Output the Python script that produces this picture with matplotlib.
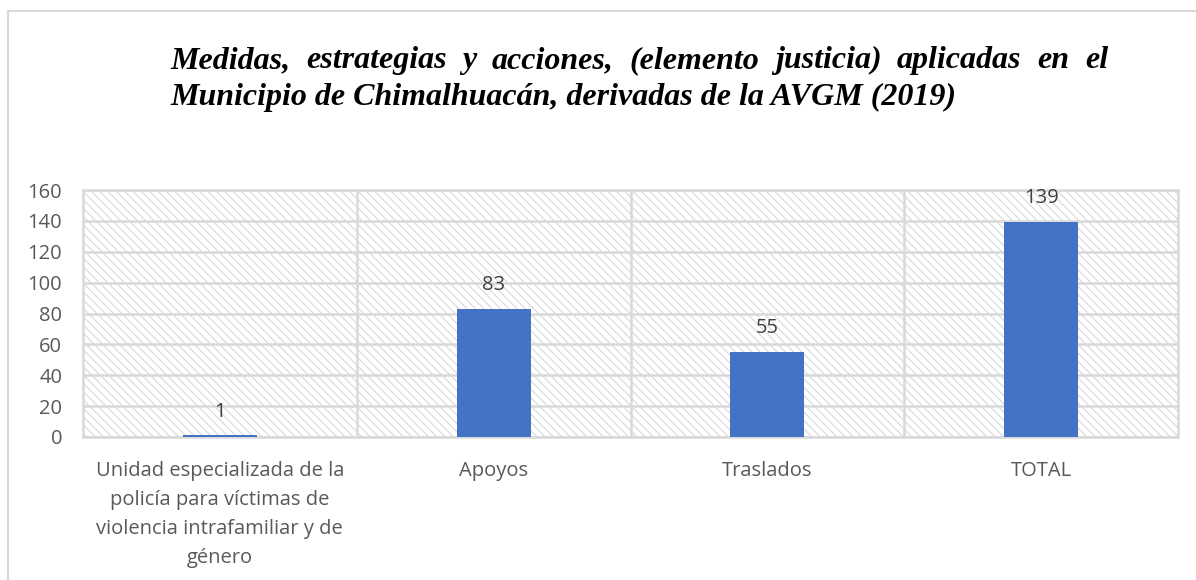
import matplotlib
matplotlib.use("Agg")
import matplotlib.pyplot as plt
from matplotlib.lines import Line2D

categories = ["Unidad especializada de la\npolicía para víctimas de\nviolencia intrafamiliar y de\ngénero",
              "Apoyos", "Traslados", "TOTAL"]
values = [1, 83, 55, 139]
yticks = [0, 20, 40, 60, 80, 100, 120, 140, 160]
title_line1 = "Medidas, estrategias y acciones, (elemento justicia) aplicadas en el"
title_line2 = "Municipio de Chimalhuacán, derivadas de la AVGM (2019)"

W, H = 1196, 580
plt.rcParams['hatch.linewidth'] = 0.75

fig = plt.figure(figsize=(W / 100, H / 100), dpi=100)
ax = fig.add_axes([83 / W, 1 - 437 / H, (1178 - 83) / W, (437 - 190) / H])

# hatched background
ax.add_patch(plt.Rectangle((0, 0), 1, 1, transform=ax.transAxes, facecolor='white',
                           edgecolor='#d6d6d6', linewidth=0, hatch='\\\\\\\\', zorder=0))
ax.set_facecolor('white')

x = list(range(len(categories)))
ax.bar(x, values, width=0.27, color='#4472c4', zorder=3)
for xi, v in zip(x, values):
    ax.text(xi, v + 15.5, str(v), ha='center', va='center', fontsize=14.5,
            color='#404040', family='Open Sans', zorder=4)

ax.set_xlim(-0.5, len(categories) - 0.5)
ax.set_ylim(0, 160)
ax.set_yticks(yticks)
ax.set_yticklabels([str(t) for t in yticks], family='Open Sans', fontsize=14.5, color='#595959')
ax.set_xticks(x)
ax.set_xticklabels(categories, family='Open Sans', fontsize=14.5, color='#595959', linespacing=1.6)
ax.tick_params(axis='y', length=0, pad=15)
ax.tick_params(axis='x', length=0, pad=17)

grid_c = '#d9d9d9'
for t in yticks:
    ax.axhline(t, color=grid_c, lw=1.8, zorder=1)
for b in [0.5, 1.5, 2.5]:
    ax.axvline(b, color=grid_c, lw=1.8, zorder=1)
for s in ax.spines.values():
    s.set_color(grid_c)
    s.set_linewidth(1.8)

# outer frame (top and left only visible)
fig.add_artist(Line2D([8 / W, 1], [1 - 11 / H, 1 - 11 / H], color='#d9d9d9', lw=1.5))
fig.add_artist(Line2D([8 / W, 8 / W], [0, 1 - 11 / H], color='#d9d9d9', lw=1.5))

# title, first line justified between x=170 and x=1108
tfont = dict(family='Liberation Serif', fontsize=23, fontweight='bold', fontstyle='italic', color='black')
words = title_line1.split(" ")
fig.canvas.draw()
renderer = fig.canvas.get_renderer()
widths = []
tmp = []
for w in words:
    t = fig.text(0, 0, w, **tfont)
    widths.append(t.get_window_extent(renderer).width)
    tmp.append(t)
for t in tmp:
    t.remove()
left, right = 170, 1108
gap = (right - left - sum(widths)) / (len(words) - 1)
pos = left
for w, wd in zip(words, widths):
    fig.text(pos / W, 1 - 68 / H, w, ha='left', va='baseline', **tfont)
    pos += wd + gap
fig.text(left / W, 1 - 105 / H, title_line2, ha='left', va='baseline', **tfont)

fig.savefig("out.png", dpi=100)
